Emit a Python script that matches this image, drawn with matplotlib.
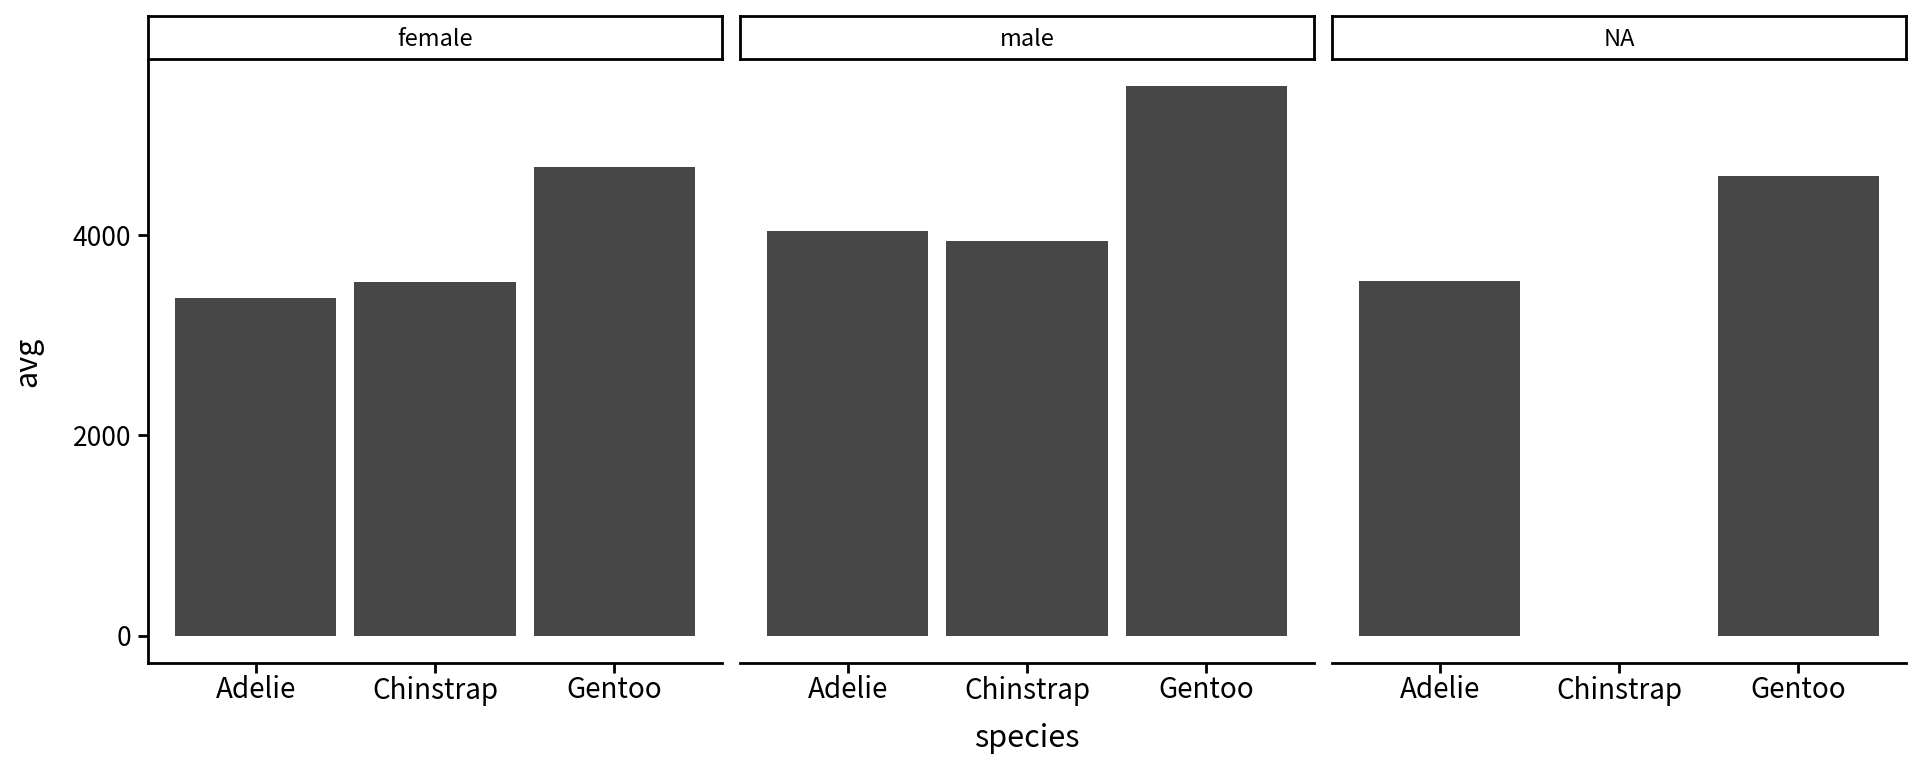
import matplotlib.pyplot as plt
import numpy as np

plt.rcParams['font.family'] = ['Noto Sans CJK JP', 'DejaVu Sans']

species = ['Adelie', 'Chinstrap', 'Gentoo']
sexes = ['female', 'male', 'NA']
avg_female = [3368.8, 3527.2, 4679.7]
avg_male = [4043.5, 3939.0, 5484.8]
avg_na = [3540.0, np.nan, 4587.5]
panel_vals = [avg_female, avg_male, avg_na]

fig = plt.figure(figsize=(19.2, 7.68), dpi=100)

x = np.arange(len(species))
ymax = 5484.8
pad = ymax * 0.05
W, H = 1920, 768
left0, pw, step = 148, 574, 592
ax_top, ax_bot = 59, 663
strip_top = 16

for i, (sex, vals) in enumerate(zip(sexes, panel_vals)):
    l = left0 + i * step
    ax = fig.add_axes([l / W, 1 - ax_bot / H, pw / W, (ax_bot - ax_top) / H])
    v = np.array(vals, dtype=float)
    ok = ~np.isnan(v)
    ax.bar(x[ok], v[ok], width=0.9, color='#474747')
    ax.set_xlim(-0.6, 2.6)
    ax.set_ylim(-pad, ymax + pad)
    ax.set_xticks(x, species)
    ax.set_yticks([0, 2000, 4000])
    for s in ['top', 'right']:
        ax.spines[s].set_visible(False)
    ax.spines['bottom'].set_linewidth(2)
    ax.spines['left'].set_linewidth(2)
    ax.tick_params(axis='both', length=7, width=2, labelsize=19, pad=5, colors='black')
    ax.tick_params(axis='x', labelsize=20, pad=2)
    if i > 0:
        ax.spines['left'].set_visible(False)
        ax.tick_params(axis='y', left=False, labelleft=False)

    # strip
    sax = fig.add_axes([l / W, 1 - ax_top / H, pw / W, (ax_top - strip_top) / H])
    sax.set_xticks([])
    sax.set_yticks([])
    for s in sax.spines.values():
        s.set_linewidth(2)
    sax.text(0.5, 0.45, sex, ha='center', va='center', fontsize=17, transform=sax.transAxes)

fig.text((left0 + (2 * step + pw) / 2) / W, 1 - 738 / H, 'species', ha='center', va='center', fontsize=22)
fig.text(28 / W, 1 - 362 / H, 'avg', ha='center', va='center', rotation=90, fontsize=22)

fig.savefig('out.png', dpi=100)
